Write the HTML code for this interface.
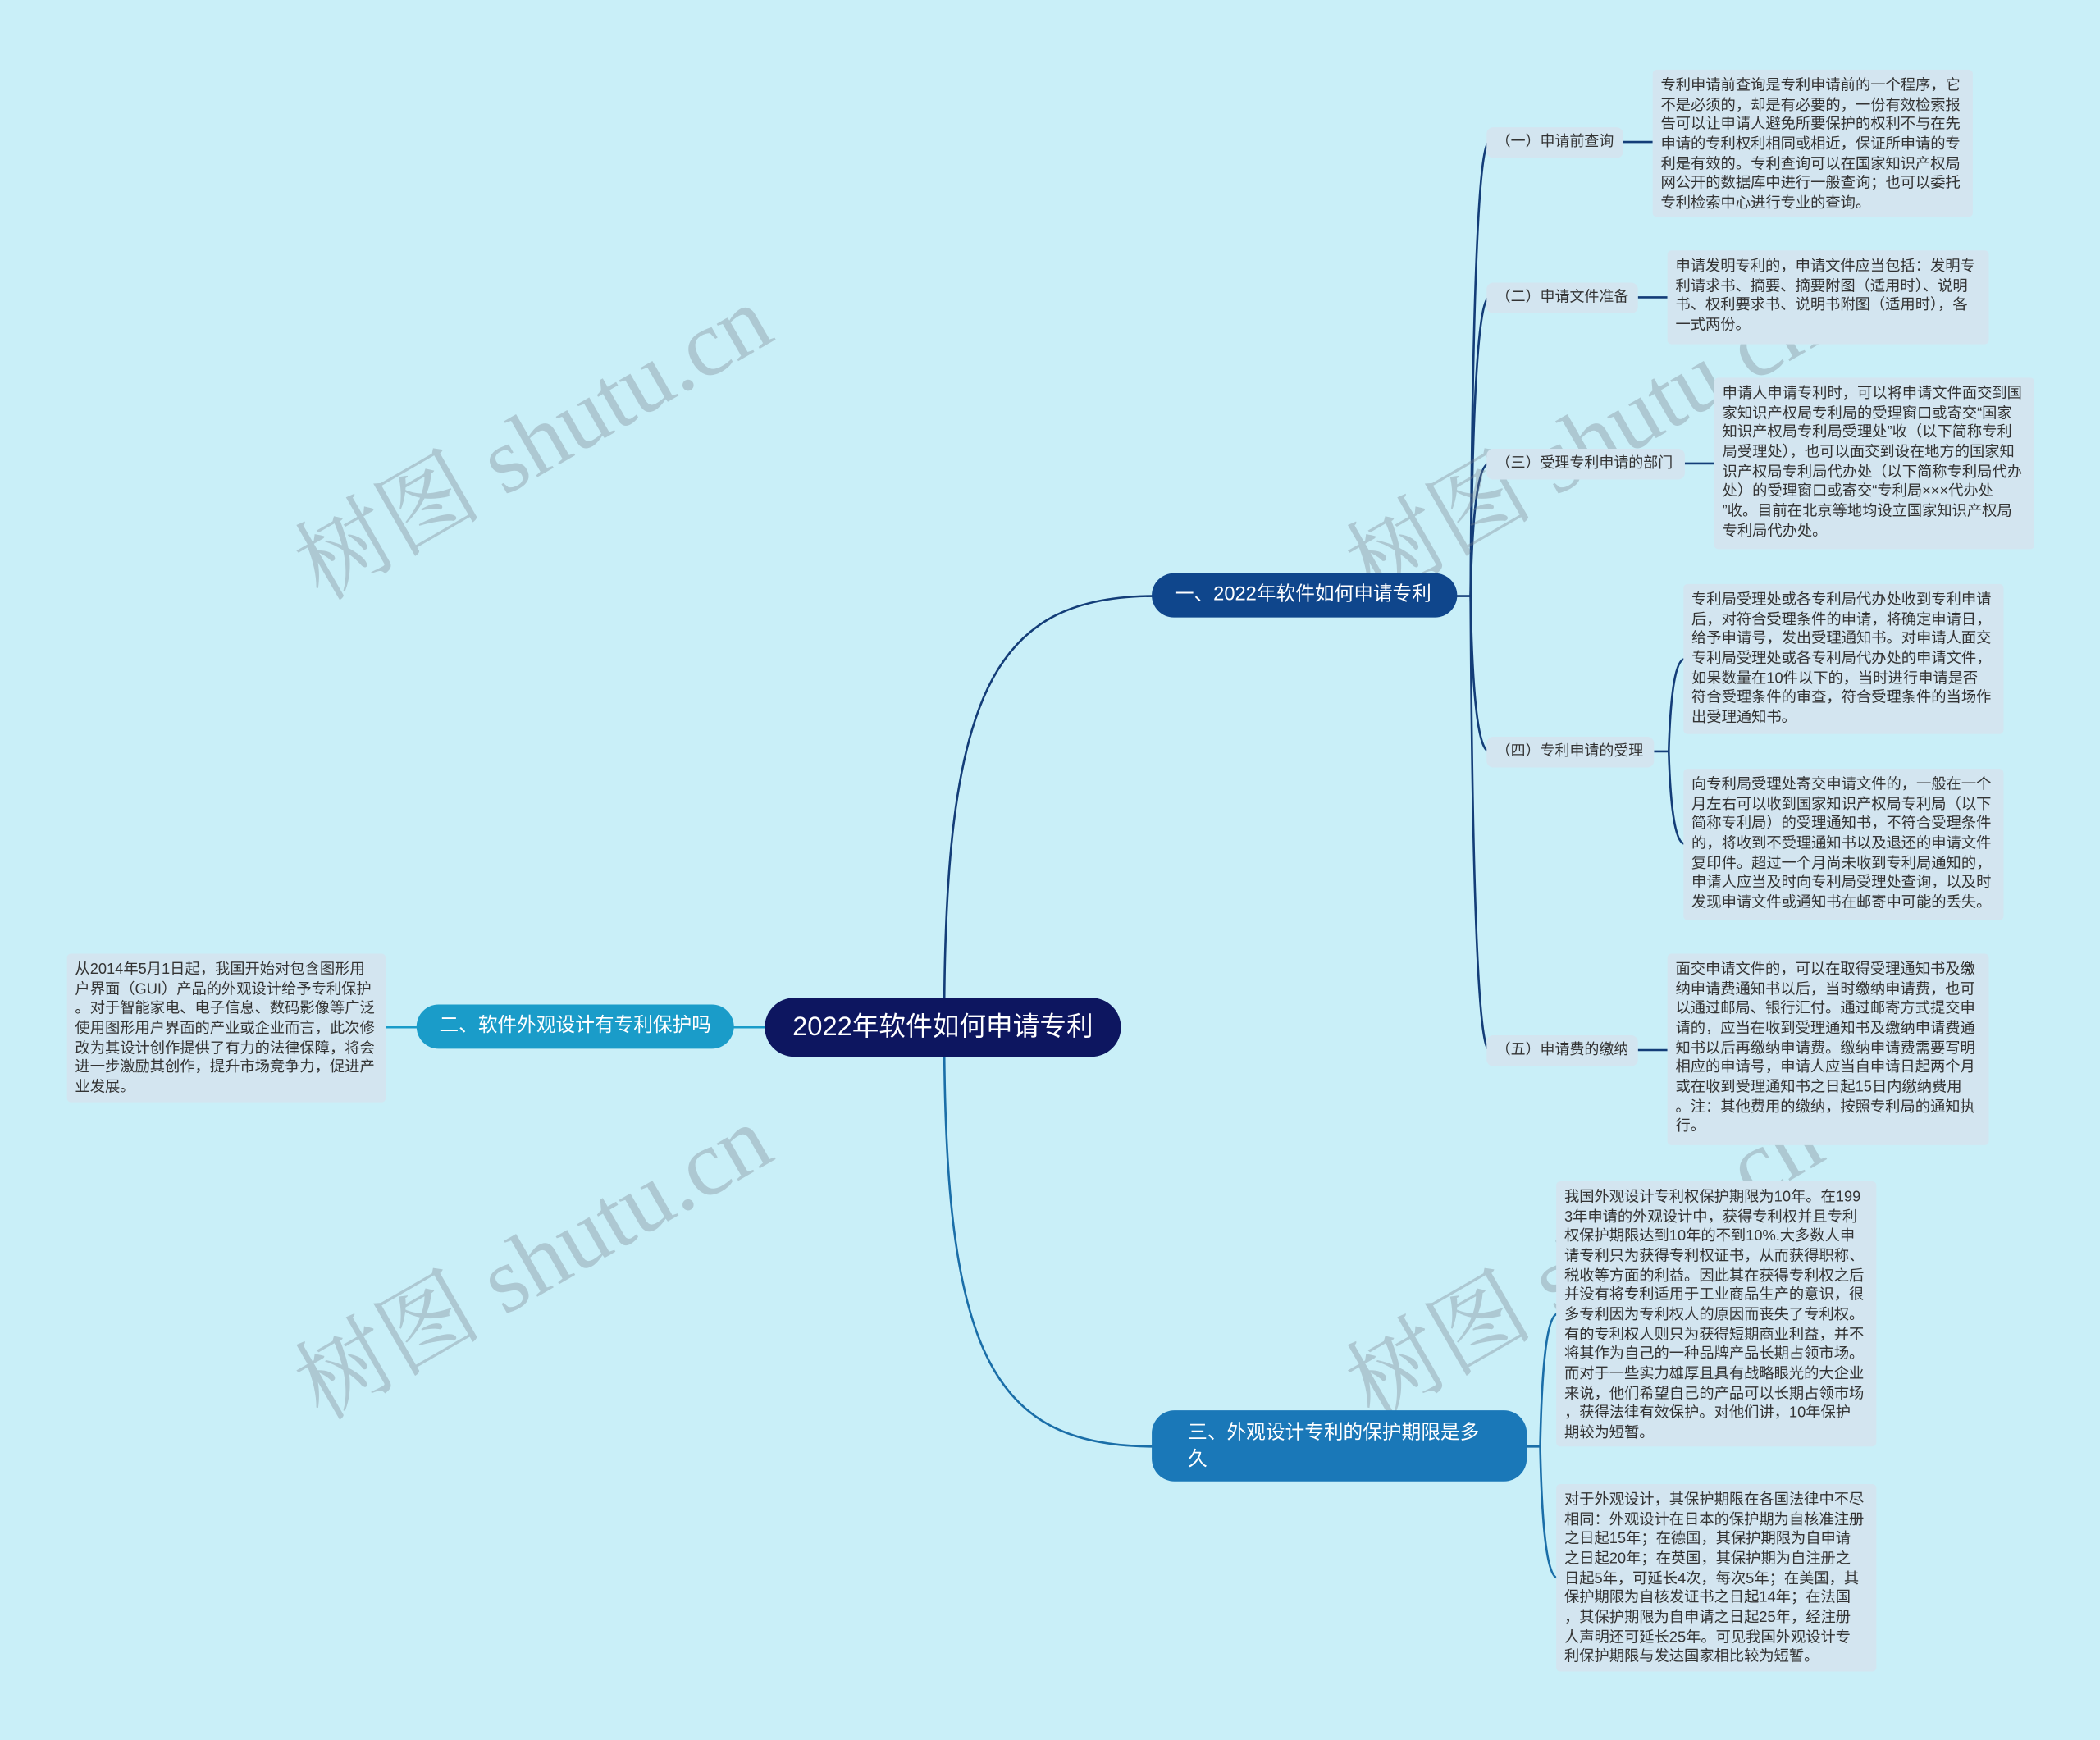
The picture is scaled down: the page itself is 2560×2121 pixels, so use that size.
<!DOCTYPE html>
<html><head><meta charset="utf-8">
<style>
html,body{margin:0;padding:0;}
body{width:2560px;height:2121px;overflow:hidden;background:#c9eff8;font-family:"Liberation Sans","Noto Sans CJK SC",sans-serif;}
#s{position:absolute;left:0;top:0;width:1568px;height:1299px;transform:scale(1.632653);transform-origin:0 0;}
.n{position:absolute;box-sizing:border-box;white-space:nowrap;}
.c{background:#0d1660;color:#fff;font-size:20px;border-radius:22px;text-align:center;line-height:44px;}
.b{color:#fff;font-size:14.5px;border-radius:17px;padding-left:17px;}
.sub{background:#d3e5f0;color:#333;font-size:11px;border-radius:5px;line-height:23px;padding-left:7px;}
.t{background:#d3e5f0;color:#333;font-size:11.2px;line-height:14.65px;padding:5px 0 0 6px;border-radius:3px;}
.w{position:absolute;font-family:"Liberation Serif","Noto Serif CJK SC",serif;font-size:70px;color:rgba(120,130,140,0.35);transform:rotate(-30deg);transform-origin:left top;white-space:nowrap;}
</style></head><body><div id="s">
<svg width="1568" height="1299" style="position:absolute;left:0;top:0" fill="none">
<g stroke="#133d78" stroke-width="1.6">
<path d="M705,767 C705,520 740,445 862,445"/>
<path d="M1086,445 H1098"/>
<path d="M1098,445 Q1100,106 1112,106"/>
<path d="M1098,445 Q1100,222 1112,222"/>
<path d="M1098,445 Q1100,346 1112,346"/>
<path d="M1098,445 Q1100,561 1112,561"/>
<path d="M1098,445 Q1100,784 1112,784"/>
<path d="M1212,106 H1234 M1223,222 H1245 M1258,346 H1280 M1223,784 H1245 M1235,561 H1246"/>
<path d="M1246,561 Q1248,492 1258,492 M1246,561 Q1248,630 1258,630"/>
</g>
<g stroke="#1a6ea8" stroke-width="1.6">
<path d="M705,767 C705,1010 740,1080 862,1080"/>
<path d="M1138,1080 H1150 Q1152,981 1163,981 M1150,1080 Q1152,1178 1163,1178"/>
</g>
<g stroke="#1a9cc9" stroke-width="1.6"><path d="M573,767 H546 M313,767 H288"/></g>
</svg>
<div class="w" style="left:200px;top:380px">树图 shutu.cn</div>
<div class="w" style="left:985px;top:380px">树图 shutu.cn</div>
<div class="w" style="left:200px;top:992px">树图 shutu.cn</div>
<div class="w" style="left:985px;top:992px">树图 shutu.cn</div>

<div class="n c" style="left:571px;top:745px;width:266px;height:44px">2022年软件如何申请专利</div>
<div class="n b" style="left:860px;top:428px;width:228px;height:33px;line-height:33px;background:#0f468c">一、2022年软件如何申请专利</div>
<div class="n b" style="left:311px;top:750px;width:237px;height:33px;line-height:33px;background:#1a9cc9">二、软件外观设计有专利保护吗</div>
<div class="n b" style="left:860px;top:1053px;width:280px;height:53px;line-height:20px;padding-top:7px;padding-left:27px;background:#1a78b8">三、外观设计专利的保护期限是多<br>久</div>

<div class="n sub" style="left:1110px;top:95px;width:102px;height:23px">（一）申请前查询</div>
<div class="n sub" style="left:1110px;top:211px;width:113px;height:23px">（二）申请文件准备</div>
<div class="n sub" style="left:1110px;top:335px;width:148px;height:23px">（三）受理专利申请的部门</div>
<div class="n sub" style="left:1110px;top:550px;width:125px;height:23px">（四）专利申请的受理</div>
<div class="n sub" style="left:1110px;top:773px;width:113px;height:23px">（五）申请费的缴纳</div>

<div class="n t" style="left:1234px;top:52px;width:239px;height:110px">专利申请前查询是专利申请前的一个程序，它<br>不是必须的，却是有必要的，一份有效检索报<br>告可以让申请人避免所要保护的权利不与在先<br>申请的专利权利相同或相近，保证所申请的专<br>利是有效的。专利查询可以在国家知识产权局<br>网公开的数据库中进行一般查询；也可以委托<br>专利检索中心进行专业的查询。</div>
<div class="n t" style="left:1245px;top:187px;width:240px;height:70px">申请发明专利的，申请文件应当包括：发明专<br>利请求书、摘要、摘要附图（适用时）、说明<br>书、权利要求书、说明书附图（适用时），各<br>一式两份。</div>
<div class="n t" style="left:1280px;top:282px;width:239px;height:128px">申请人申请专利时，可以将申请文件面交到国<br>家知识产权局专利局的受理窗口或寄交“国家<br>知识产权局专利局受理处”收（以下简称专利<br>局受理处），也可以面交到设在地方的国家知<br>识产权局专利局代办处（以下简称专利局代办<br>处）的受理窗口或寄交“专利局×××代办处<br>”收。目前在北京等地均设立国家知识产权局<br>专利局代办处。</div>
<div class="n t" style="left:1257px;top:436px;width:239px;height:112px">专利局受理处或各专利局代办处收到专利申请<br>后，对符合受理条件的申请，将确定申请日，<br>给予申请号，发出受理通知书。对申请人面交<br>专利局受理处或各专利局代办处的申请文件，<br>如果数量在10件以下的，当时进行申请是否<br>符合受理条件的审查，符合受理条件的当场作<br>出受理通知书。</div>
<div class="n t" style="left:1257px;top:574px;width:239px;height:113px">向专利局受理处寄交申请文件的，一般在一个<br>月左右可以收到国家知识产权局专利局（以下<br>简称专利局）的受理通知书，不符合受理条件<br>的，将收到不受理通知书以及退还的申请文件<br>复印件。超过一个月尚未收到专利局通知的，<br>申请人应当及时向专利局受理处查询，以及时<br>发现申请文件或通知书在邮寄中可能的丢失。</div>
<div class="n t" style="left:1245px;top:712px;width:240px;height:143px">面交申请文件的，可以在取得受理通知书及缴<br>纳申请费通知书以后，当时缴纳申请费，也可<br>以通过邮局、银行汇付。通过邮寄方式提交申<br>请的，应当在收到受理通知书及缴纳申请费通<br>知书以后再缴纳申请费。缴纳申请费需要写明<br>相应的申请号，申请人应当自申请日起两个月<br>或在收到受理通知书之日起15日内缴纳费用<br>。注：其他费用的缴纳，按照专利局的通知执<br>行。</div>
<div class="n t" style="left:50px;top:712px;width:238px;height:111px">从2014年5月1日起，我国开始对包含图形用<br>户界面（GUI）产品的外观设计给予专利保护<br>。对于智能家电、电子信息、数码影像等广泛<br>使用图形用户界面的产业或企业而言，此次修<br>改为其设计创作提供了有力的法律保障，将会<br>进一步激励其创作，提升市场竞争力，促进产<br>业发展。</div>
<div class="n t" style="left:1162px;top:882px;width:239px;height:198px">我国外观设计专利权保护期限为10年。在199<br>3年申请的外观设计中，获得专利权并且专利<br>权保护期限达到10年的不到10%.大多数人申<br>请专利只为获得专利权证书，从而获得职称、<br>税收等方面的利益。因此其在获得专利权之后<br>并没有将专利适用于工业商品生产的意识，很<br>多专利因为专利权人的原因而丧失了专利权。<br>有的专利权人则只为获得短期商业利益，并不<br>将其作为自己的一种品牌产品长期占领市场。<br>而对于一些实力雄厚且具有战略眼光的大企业<br>来说，他们希望自己的产品可以长期占领市场<br>，获得法律有效保护。对他们讲，10年保护<br>期较为短暂。</div>
<div class="n t" style="left:1162px;top:1108px;width:239px;height:140px">对于外观设计，其保护期限在各国法律中不尽<br>相同：外观设计在日本的保护期为自核准注册<br>之日起15年；在德国，其保护期限为自申请<br>之日起20年；在英国，其保护期为自注册之<br>日起5年，可延长4次，每次5年；在美国，其<br>保护期限为自核发证书之日起14年；在法国<br>，其保护期限为自申请之日起25年，经注册<br>人声明还可延长25年。可见我国外观设计专<br>利保护期限与发达国家相比较为短暂。</div>
</div></body></html>
